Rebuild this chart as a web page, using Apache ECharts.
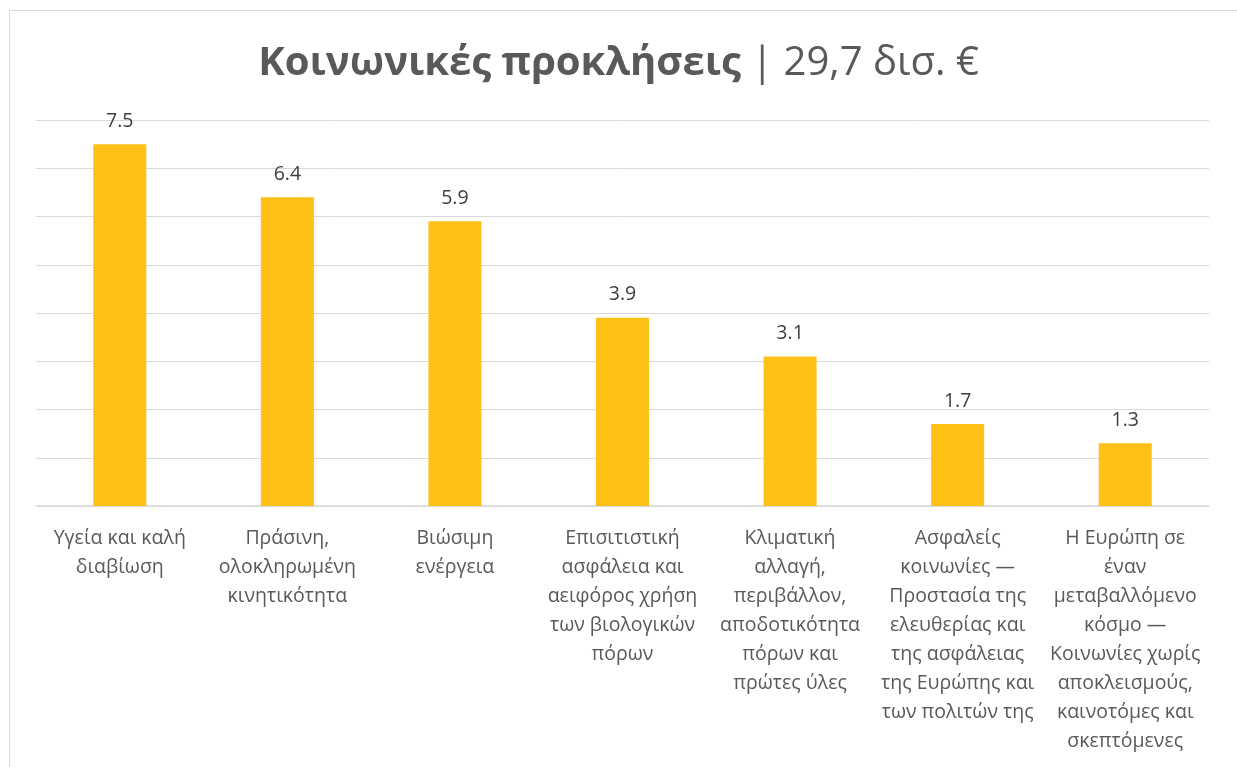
<!DOCTYPE html>
<html>
<head>
<meta charset="utf-8">
<script src="https://cdn.jsdelivr.net/npm/echarts@6/dist/echarts.min.js"></script>
<style>
  html, body { margin: 0; padding: 0; background: #fff; }
  #chart { width: 1237px; height: 767px; }
</style>
</head>
<body>
<div id="chart"></div>
<script>
// κατηγορίες (με αλλαγές γραμμής όπως στο πρωτότυπο)
var categories = [
  "Υγεία και καλή\nδιαβίωση",
  "Πράσινη,\nολοκληρωμένη\nκινητικότητα",
  "Βιώσιμη\nενέργεια",
  "Επισιτιστική\nασφάλεια και\nαειφόρος χρήση\nτων βιολογικών\nπόρων",
  "Κλιματική\nαλλαγή,\nπεριβάλλον,\nαποδοτικότητα\nπόρων και\nπρώτες ύλες",
  "Ασφαλείς\nκοινωνίες —\nΠροστασία της\nελευθερίας και\nτης ασφάλειας\nτης Ευρώπης και\nτων πολιτών της",
  "Η Ευρώπη σε\nέναν\nμεταβαλλόμενο\nκόσμο —\nΚοινωνίες χωρίς\nαποκλεισμούς,\nκαινοτόμες και\nσκεπτόμενες"
];
var values = [7.5, 6.4, 5.9, 3.9, 3.1, 1.7, 1.3];

var font = "Open Sans";
var chart = echarts.init(document.getElementById("chart"));
chart.setOption({
  animation: false,
  textStyle: { fontFamily: font },
  // πλαίσιο γύρω από το γράφημα
  graphic: [{
    type: "rect",
    left: 7, top: 8,
    shape: { width: 1300, height: 800 },
    style: { fill: "none", stroke: "#d9d9d9", lineWidth: 1 },
    silent: true
  }],
  title: {
    left: "center",
    top: 39,
    text: "{b|Κοινωνικές προκλήσεις}{n| | 29,7 δισ. €}",
    textStyle: {
      rich: {
        b: { fontSize: 40, fontWeight: "bold", color: "#595959", fontFamily: font },
        n: { fontSize: 40, fontWeight: "normal", color: "#595959", fontFamily: font }
      }
    }
  },
  grid: { left: 36, right: 28, top: 120, bottom: 261, containLabel: false },
  xAxis: {
    type: "category",
    data: categories,
    axisLine: { lineStyle: { color: "#d9d9d9", width: 1.5 } },
    axisTick: { show: false },
    axisLabel: {
      interval: 0,
      color: "#595959",
      fontSize: 19.5,
      lineHeight: 29,
      margin: 18,
      verticalAlign: "top"
    }
  },
  yAxis: {
    type: "value",
    min: 0,
    max: 8,
    interval: 1,
    axisLabel: { show: false },
    axisLine: { show: false },
    axisTick: { show: false },
    splitLine: { lineStyle: { color: "#d9d9d9", width: 1 } }
  },
  series: [{
    type: "bar",
    data: values,
    barWidth: 53,
    itemStyle: { color: "#FFC118" },
    label: {
      show: true,
      position: "top",
      distance: 13,
      color: "#404040",
      fontSize: 19.5,
      formatter: function (p) { return p.value.toFixed(1); }
    }
  }]
});
</script>
</body>
</html>
